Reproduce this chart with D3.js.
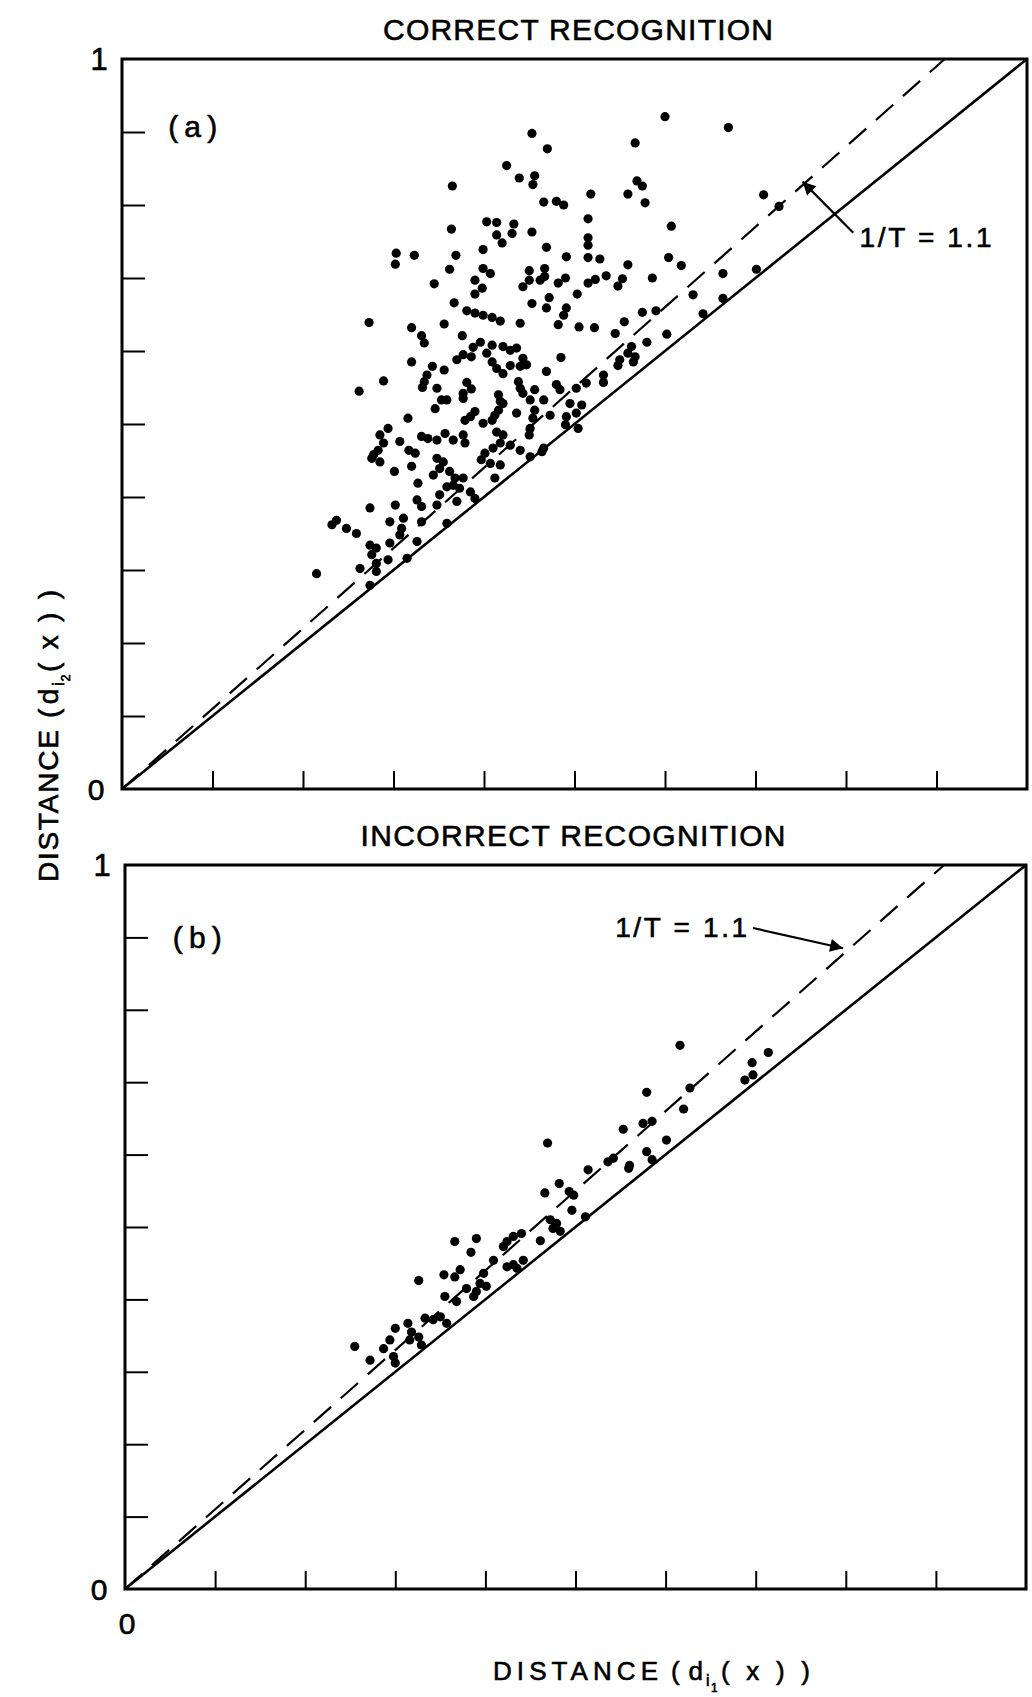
<!DOCTYPE html>
<html>
<head>
<meta charset="utf-8">
<script src="https://cdn.jsdelivr.net/npm/d3@7"></script>
<style>
  body { margin: 0; background: #fff; }
  svg { display: block; }
  text { font-family: "Liberation Sans", Arial, sans-serif; fill: #000; stroke: #000; stroke-width: 0.6px; }
</style>
</head>
<body>
<svg></svg>
<script>
// Page size
const width = 1032;
const height = 1697;

// Tick positions on both axes (only the ends are labelled)
const tickValues = [0.1, 0.2, 0.3, 0.4, 0.5, 0.6, 0.7, 0.8, 0.9];
const endLabels = ["0", "1"];

// Threshold line  d_i2 = (1/T) * d_i1
const threshold = 1.1;
const thresholdLabel = "1/T = 1.1";

// (a) correct recognition: [d_i1(x), d_i2(x)]
const correctPts = [
  [0.600,0.921],[0.670,0.906],[0.453,0.898],[0.567,0.885],[0.470,0.877],[0.425,0.854],[0.439,0.837],[0.456,0.840],[0.454,0.828],[0.365,0.826],
  [0.569,0.833],[0.575,0.826],[0.559,0.815],[0.578,0.803],[0.518,0.815],[0.466,0.804],[0.480,0.805],[0.488,0.800],[0.709,0.814],[0.726,0.798],
  [0.403,0.777],[0.414,0.776],[0.433,0.774],[0.431,0.761],[0.453,0.763],[0.364,0.767],[0.515,0.781],[0.607,0.771],[0.414,0.759],[0.420,0.748],
  [0.515,0.755],[0.515,0.745],[0.469,0.742],[0.399,0.739],[0.303,0.734],[0.323,0.731],[0.302,0.719],[0.369,0.731],[0.491,0.729],[0.515,0.728],
  [0.528,0.726],[0.604,0.728],[0.618,0.717],[0.559,0.718],[0.362,0.712],[0.399,0.713],[0.407,0.706],[0.450,0.710],[0.467,0.713],[0.467,0.702],
  [0.390,0.697],[0.345,0.692],[0.443,0.688],[0.450,0.697],[0.462,0.697],[0.482,0.693],[0.490,0.700],[0.515,0.693],[0.523,0.698],[0.535,0.703],
  [0.553,0.699],[0.548,0.689],[0.586,0.700],[0.664,0.706],[0.701,0.712],[0.398,0.686],[0.390,0.678],[0.503,0.678],[0.472,0.673],[0.631,0.677],
  [0.367,0.666],[0.453,0.665],[0.469,0.659],[0.491,0.659],[0.664,0.672],[0.642,0.651],[0.590,0.655],[0.575,0.653],[0.381,0.655],[0.390,0.652],
  [0.399,0.649],[0.409,0.646],[0.418,0.641],[0.440,0.638],[0.488,0.649],[0.482,0.636],[0.273,0.639],[0.356,0.637],[0.320,0.632],[0.505,0.633],
  [0.522,0.632],[0.555,0.640],[0.545,0.624],[0.602,0.623],[0.331,0.621],[0.334,0.611],[0.376,0.621],[0.396,0.612],[0.388,0.605],[0.409,0.608],
  [0.421,0.606],[0.429,0.601],[0.436,0.604],[0.580,0.612],[0.563,0.606],[0.559,0.597],[0.567,0.592],[0.550,0.588],[0.548,0.580],[0.565,0.585],
  [0.377,0.595],[0.370,0.588],[0.386,0.592],[0.403,0.597],[0.443,0.590],[0.447,0.581],[0.440,0.579],[0.485,0.591],[0.409,0.585],[0.414,0.576],
  [0.421,0.569],[0.429,0.580],[0.320,0.585],[0.343,0.579],[0.337,0.567],[0.334,0.558],[0.332,0.550],[0.356,0.574],[0.289,0.559],[0.262,0.545],
  [0.381,0.557],[0.386,0.548],[0.377,0.542],[0.377,0.535],[0.348,0.549],[0.438,0.558],[0.440,0.549],[0.443,0.542],[0.456,0.547],[0.469,0.572],
  [0.480,0.554],[0.484,0.547],[0.532,0.567],[0.532,0.557],[0.513,0.556],[0.502,0.549],[0.416,0.540],[0.418,0.531],[0.416,0.519],[0.412,0.512],
  [0.409,0.505],[0.421,0.528],[0.466,0.533],[0.451,0.533],[0.456,0.519],[0.454,0.508],[0.451,0.494],[0.450,0.485],[0.495,0.528],[0.508,0.526],
  [0.502,0.515],[0.491,0.510],[0.490,0.499],[0.504,0.494],[0.473,0.512],[0.436,0.515],[0.359,0.533],[0.353,0.533],[0.346,0.521],[0.316,0.508],
  [0.390,0.517],[0.385,0.510],[0.379,0.505],[0.399,0.501],[0.294,0.494],[0.285,0.485],[0.289,0.474],[0.283,0.464],[0.278,0.458],[0.276,0.453],
  [0.285,0.448],[0.307,0.476],[0.317,0.464],[0.324,0.460],[0.320,0.442],[0.301,0.435],[0.331,0.483],[0.338,0.480],[0.348,0.478],[0.357,0.487],
  [0.366,0.478],[0.377,0.485],[0.379,0.474],[0.414,0.489],[0.421,0.485],[0.418,0.474],[0.429,0.471],[0.440,0.464],[0.410,0.467],[0.401,0.460],
  [0.397,0.451],[0.407,0.446],[0.418,0.444],[0.412,0.426],[0.348,0.453],[0.355,0.448],[0.351,0.439],[0.344,0.430],[0.362,0.435],[0.368,0.426],
  [0.366,0.416],[0.359,0.414],[0.377,0.426],[0.373,0.412],[0.385,0.407],[0.390,0.398],[0.370,0.394],[0.351,0.403],[0.327,0.419],[0.326,0.396],
  [0.331,0.387],[0.348,0.389],[0.466,0.467],[0.451,0.455],[0.464,0.462],[0.274,0.385],[0.302,0.389],[0.237,0.368],[0.232,0.362],[0.248,0.357],
  [0.259,0.350],[0.296,0.366],[0.311,0.371],[0.309,0.357],[0.307,0.348],[0.331,0.366],[0.359,0.364],[0.274,0.334],[0.281,0.330],[0.296,0.337],
  [0.276,0.321],[0.326,0.339],[0.315,0.316],[0.294,0.314],[0.281,0.309],[0.263,0.302],[0.281,0.298],[0.215,0.295],[0.274,0.279]
];

// (b) incorrect recognition
const incorrectPts = [
  [0.616,0.751],[0.714,0.741],[0.696,0.727],[0.697,0.710],[0.688,0.703],[0.579,0.686],[0.627,0.692],[0.620,0.663],[0.585,0.646],[0.575,0.643],
  [0.553,0.635],[0.601,0.620],[0.469,0.616],[0.579,0.604],[0.585,0.593],[0.560,0.585],[0.559,0.581],[0.536,0.590],[0.542,0.595],[0.514,0.579],
  [0.482,0.560],[0.466,0.547],[0.493,0.549],[0.498,0.544],[0.496,0.523],[0.511,0.514],[0.472,0.510],[0.479,0.505],[0.483,0.494],[0.475,0.498],
  [0.366,0.480],[0.390,0.484],[0.384,0.465],[0.431,0.487],[0.440,0.491],[0.424,0.480],[0.420,0.473],[0.461,0.481],[0.409,0.454],[0.424,0.445],
  [0.431,0.448],[0.442,0.454],[0.435,0.443],[0.372,0.441],[0.366,0.431],[0.354,0.434],[0.326,0.426],[0.398,0.436],[0.394,0.422],[0.401,0.418],
  [0.390,0.411],[0.379,0.415],[0.355,0.404],[0.368,0.397],[0.387,0.404],[0.350,0.376],[0.342,0.372],[0.357,0.367],[0.333,0.374],[0.314,0.367],
  [0.300,0.360],[0.294,0.344],[0.287,0.332],[0.298,0.321],[0.300,0.312],[0.316,0.344],[0.326,0.348],[0.329,0.337],[0.318,0.355],[0.255,0.335],
  [0.272,0.316]
];

// Create the SVG container.
const svg = d3.select("svg")
    .attr("width", width)
    .attr("height", height)
    .attr("viewBox", [0, 0, width, height]);

svg.append("defs").append("marker")
    .attr("id", "arrow")
    .attr("viewBox", "0 0 10 10")
    .attr("refX", 10)
    .attr("refY", 5)
    .attr("markerUnits", "userSpaceOnUse")
    .attr("markerWidth", 26)
    .attr("markerHeight", 13)
    .attr("orient", "auto")
  .append("path")
    .attr("d", "M0,0L10,5L0,10z")
    .attr("fill", "#000");

function drawPanel(p) {
  const x = d3.scaleLinear([0, 1], [p.left, p.right]);
  const y = d3.scaleLinear([0, 1], [p.bottom, p.top]);
  const g = svg.append("g");

  // frame
  g.append("rect")
      .attr("x", p.left).attr("y", p.top)
      .attr("width", p.right - p.left).attr("height", p.bottom - p.top)
      .attr("fill", "none").attr("stroke", "#000").attr("stroke-width", 3);

  // inward ticks, no labels
  g.append("g")
      .attr("transform", `translate(0,${p.bottom})`)
      .call(d3.axisBottom(x).tickValues(tickValues).tickSize(-18).tickFormat(""))
      .call(a => a.select(".domain").remove())
      .call(a => a.selectAll(".tick line").attr("stroke-width", 2));
  g.append("g")
      .attr("transform", `translate(${p.left},0)`)
      .call(d3.axisLeft(y).tickValues(tickValues).tickSize(-23).tickFormat(""))
      .call(a => a.select(".domain").remove())
      .call(a => a.selectAll(".tick line").attr("stroke-width", 2));

  // end labels of the y axis
  g.append("text").attr("x", p.left - 26).attr("y", y(0)).attr("dy", "0.36em")
      .attr("text-anchor", "middle").attr("font-size", 30).text(endLabels[0]);
  g.append("text").attr("x", p.left - 23).attr("y", y(1)).attr("dy", "0.36em")
      .attr("text-anchor", "middle").attr("font-size", 31).text(endLabels[1]);

  const line = d3.line().x(d => x(d[0])).y(d => y(d[1]));

  // d_i2 = d_i1
  g.append("path")
      .attr("d", line([[0, 0], [1, 1]]))
      .attr("fill", "none").attr("stroke", "#000").attr("stroke-width", 2.6);

  // d_i2 = (1/T) d_i1
  g.append("path")
      .attr("d", line([[0, 0], [1 / threshold, 1]]))
      .attr("fill", "none").attr("stroke", "#000").attr("stroke-width", 2.2)
      .attr("stroke-dasharray", "23,13");

  g.append("g").selectAll("circle")
    .data(p.pts)
    .join("circle")
      .attr("cx", d => x(d[0]))
      .attr("cy", d => y(d[1]))
      .attr("r", 4.6)
      .attr("fill", "#000");

  // panel tag
  g.append("text").attr("x", x(p.tag[0])).attr("y", y(p.tag[1]))
      .attr("font-size", 30).attr("textLength", 49).text(p.tagText);

  // threshold note + arrow
  g.append("line")
      .attr("x1", x(p.arrow[0][0])).attr("y1", y(p.arrow[0][1]))
      .attr("x2", x(p.arrow[1][0])).attr("y2", y(p.arrow[1][1]))
      .attr("stroke", "#000").attr("stroke-width", 2.2)
      .attr("marker-end", "url(#arrow)");
  g.append("text").attr("x", x(p.note[0])).attr("y", y(p.note[1]))
      .attr("font-size", 28).attr("textLength", 132).attr("lengthAdjust", "spacing")
      .text(thresholdLabel);

  // title
  svg.append("text").attr("x", p.titleX).attr("y", p.titleY)
      .attr("text-anchor", "middle").attr("font-size", 30)
      .attr("textLength", p.titleLen).attr("lengthAdjust", "spacing")
      .text(p.title);

  return {x, y};
}

drawPanel({
  left: 122, right: 1027, top: 59, bottom: 789,
  pts: correctPts,
  title: "CORRECT RECOGNITION", titleX: 578, titleY: 40, titleLen: 390,
  tagText: "(a)", tag: [0.051, 0.893],
  note: [0.815, 0.742],
  arrow: [[0.808, 0.762], [0.752, 0.832]]
});

const b = drawPanel({
  left: 125, right: 1026, top: 865, bottom: 1589,
  pts: incorrectPts,
  title: "INCORRECT RECOGNITION", titleX: 573, titleY: 846, titleLen: 425,
  tagText: "(b)", tag: [0.053, 0.885],
  note: [0.544, 0.901],
  arrow: [[0.697, 0.913], [0.797, 0.885]]
});

// x axis origin label under panel (b)
svg.append("text").attr("x", b.x(0) + 2).attr("y", b.y(0) + 34).attr("dy", "0.36em")
    .attr("text-anchor", "middle").attr("font-size", 30).text(endLabels[0]);

// axis titles: "DISTANCE (d_i1(x))" with nested subscripts, laid out in pieces
function axisTitle(sel, sub, len) {
  const k = len / 317;
  sel.append("tspan").attr("x", 0).attr("textLength", 165 * k).attr("lengthAdjust", "spacing").text("DISTANCE");
  sel.append("tspan").attr("x", 178 * k).attr("textLength", 32 * k).attr("lengthAdjust", "spacing").text("(d");
  sel.append("tspan").attr("x", 213 * k).attr("dy", 6).attr("font-size", 16).text("i");
  sel.append("tspan").attr("x", 218 * k).attr("dy", 6).attr("font-size", 12).text(sub);
  sel.append("tspan").attr("x", 228 * k).attr("dy", -12).attr("textLength", 89 * k).attr("lengthAdjust", "spacing").text("(x))");
}

svg.append("g").attr("transform", "translate(493,1680)")
  .append("text").attr("font-size", 26)
    .call(axisTitle, "1", 317);

svg.append("g").attr("transform", "translate(58,882) rotate(-90)")
  .append("text").attr("font-size", 28)
    .call(axisTitle, "2", 292);
</script>
</body>
</html>
